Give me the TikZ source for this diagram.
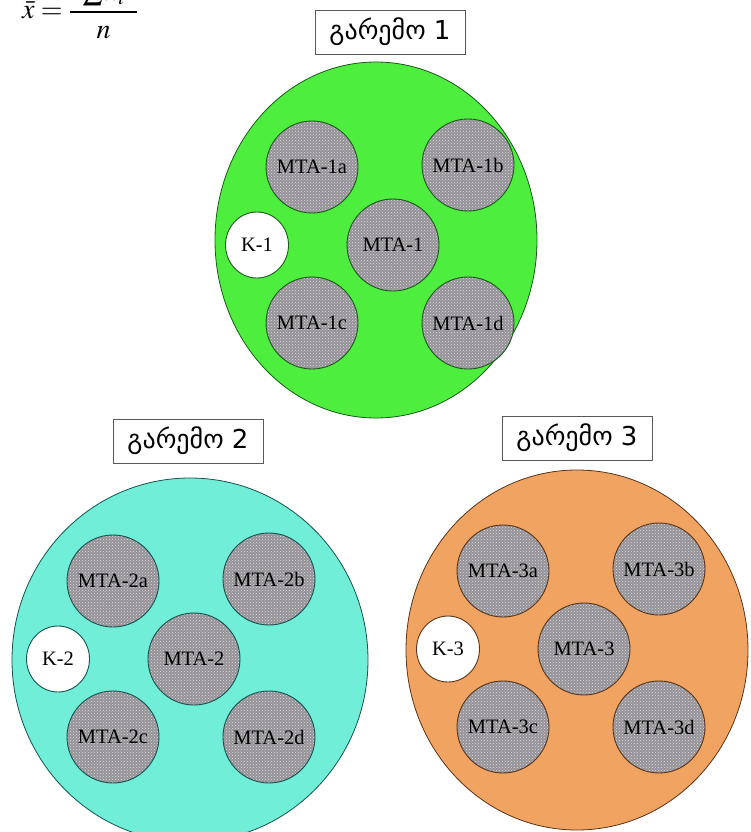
\documentclass[tikz,border=0pt]{standalone}
\usepackage{amsmath}
\usepackage{mathptmx}
\usepackage{fontspec}
\setmainfont{Liberation Serif}
\newfontfamily\geofont{DejaVu Sans}
\usetikzlibrary{shapes.geometric,patterns}

\definecolor{envgreen}{RGB}{78,238,62}
\definecolor{envcyan}{RGB}{112,238,216}
\definecolor{envorange}{RGB}{241,163,98}
\definecolor{linegreen}{RGB}{28,88,28}
\definecolor{linecyan}{RGB}{22,82,78}
\definecolor{lineorange}{RGB}{88,52,26}
\definecolor{mtagray}{RGB}{148,146,152}

\tikzset{
  env/.style={ellipse, inner sep=0pt, line width=0.8pt},
  lbl/.style={draw=gray!70!black, fill=white, line width=0.7pt, inner sep=2pt,
    minimum width=150pt, minimum height=44pt, font=\geofont\fontsize{26}{28}\selectfont},
  mta/.style={circle, inner sep=0pt, minimum size=92pt, line width=0.9pt,
    preaction={fill=mtagray}, pattern=crosshatch dots, pattern color=gray!25,
    font=\fontsize{20.5}{22}\selectfont},
  kbox/.style={ellipse, inner sep=0pt, minimum width=63pt, minimum height=66pt,
    line width=0.9pt, fill=white, font=\fontsize{20.5}{22}\selectfont}
}

\begin{document}
\begin{tikzpicture}[x=1pt,y=-1pt]
    \useasboundingbox (0,0) rectangle (750,832);
    % formula in the corner, its top runs off the page
    \node[anchor=base west, inner sep=0pt, font=\fontsize{28}{30}\selectfont] (formula) at (22,19) {$\bar{x}=\dfrac{\hspace{0.45em}\sum x_i\hspace{0.45em}}{n}$};
    \foreach \col/\ox/\oy/\rx/\ry/\ix/\iy/\lx/\ly [count=\i] in {green/376/240/161/178/384/244/390/32,
                                                             cyan/190/660/178/182/185/658/188/441,
                                                             orange/577/650/171/180/575/648/577/438}{
        \pgfmathsetmacro\ew{2*\rx}
        \pgfmathsetmacro\eh{2*\ry}
        \node[env, fill=env\col, draw=line\col, minimum width=\ew pt, minimum height=\eh pt] (env\i) at (\ox,\oy) {};
        \node[lbl] (lbl\i) at (\lx,\ly) {გარემო \i};
        % the sub-areas
        \foreach \s/\dx/\dy in {a/-72/-77, b/84/-79, c/-72/79, d/84/79}{
            \node[mta, draw=line\col] (mta\i\s) at ({\ix+\dx},{\iy+\dy}) {MTA-\i\s};
        }
        \node[mta, draw=line\col] (mta\i) at ({\ix+9},{\iy+1}) {MTA-\i};
        \node[kbox, draw=line\col] (k\i) at ({\ix-127},{\iy+1}) {K-\i};
    }
\end{tikzpicture}
\end{document}
